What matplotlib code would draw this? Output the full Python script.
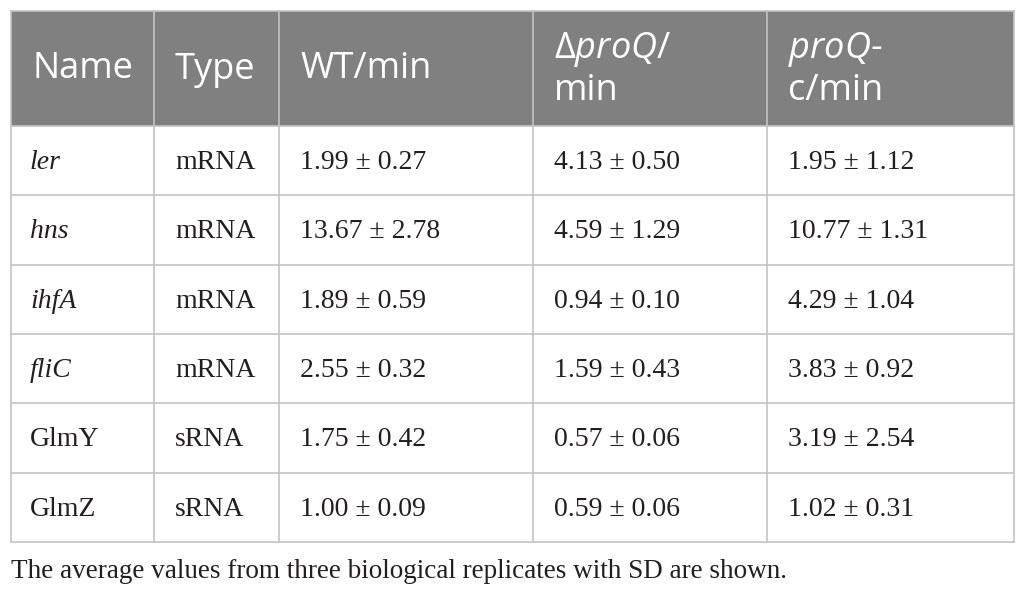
import matplotlib.pyplot as plt
from matplotlib.patches import Rectangle

plt.rcParams['mathtext.fontset'] = 'custom'
plt.rcParams['mathtext.rm'] = 'Open Sans'
plt.rcParams['mathtext.it'] = 'Open Sans:italic'

# table content
names = ['ler', 'hns', 'ihfA', 'fliC', 'GlmY', 'GlmZ']
name_italic = [True, True, True, True, False, False]
types = ['mRNA', 'mRNA', 'mRNA', 'mRNA', 'sRNA', 'sRNA']
wt_mean = [1.99, 13.67, 1.89, 2.55, 1.75, 1.00]
wt_sd = [0.27, 2.78, 0.59, 0.32, 0.42, 0.09]
dproq_mean = [4.13, 4.59, 0.94, 1.59, 0.57, 0.59]
dproq_sd = [0.50, 1.29, 0.10, 0.43, 0.06, 0.06]
proqc_mean = [1.95, 10.77, 4.29, 3.83, 3.19, 1.02]
proqc_sd = [1.12, 1.31, 1.04, 0.92, 2.54, 0.31]
headers = ['Name', 'Type', 'WT/min', 'Δ$\\it{proQ}$/\nmin', '$\\it{proQ}$-\nc/min']
footnote = 'The average values from three biological replicates with SD are shown.'

# layout in pixels
col_edges = [11, 154, 279, 533, 767, 1014]
top, head_bot, bottom = 11, 126, 542
n_rows = len(names)
row_h = (bottom - head_bot) / n_rows
pad = 21

fig = plt.figure(figsize=(10.26, 5.95), dpi=100)
ax = fig.add_axes([0, 0, 1, 1])
ax.set_xlim(0, 1026)
ax.set_ylim(595, 0)
ax.axis('off')

grid_c = '#c4c4c4'
head_c = '#808080'
txt_c = '#231f20'

ax.add_patch(Rectangle((col_edges[0], top), col_edges[-1] - col_edges[0],
                       head_bot - top, facecolor=head_c, edgecolor='none'))

# grid lines
for x in col_edges:
    ax.plot([x, x], [top, bottom], color=grid_c, lw=1.2)
ax.plot([col_edges[0], col_edges[-1]], [top, top], color=grid_c, lw=1.2)
for i in range(n_rows + 1):
    y = head_bot + i * row_h
    ax.plot([col_edges[0], col_edges[-1]], [y, y], color=grid_c, lw=1.2)

# header text
for j, h in enumerate(headers):
    ax.text(col_edges[j] + pad, (top + head_bot) / 2 + 1, h, color='white',
            fontsize=26, family='Open Sans', ha='left', va='center',
            linespacing=1.15)

# body
serif = 'Liberation Serif'
for i in range(n_rows):
    yc = head_bot + (i + 0.5) * row_h + 2
    ax.text(col_edges[0] + pad - 2, yc, names[i], fontsize=20, family=serif,
            style='italic' if name_italic[i] else 'normal',
            ha='left', va='center', color=txt_c)
    ax.text(col_edges[1] + pad, yc, types[i], fontsize=20, family=serif,
            ha='left', va='center', color=txt_c)
    cells = [(wt_mean, wt_sd), (dproq_mean, dproq_sd), (proqc_mean, proqc_sd)]
    for k, (m, s) in enumerate(cells):
        ax.text(col_edges[2 + k] + pad, yc, f'{m[i]:.2f} ± {s[i]:.2f}',
                fontsize=20, family=serif, ha='left', va='center',
                color=txt_c)

ax.text(col_edges[0], 571, footnote, fontsize=19.5, family=serif,
        ha='left', va='center', color=txt_c)

fig.savefig('out.png', dpi=100)
